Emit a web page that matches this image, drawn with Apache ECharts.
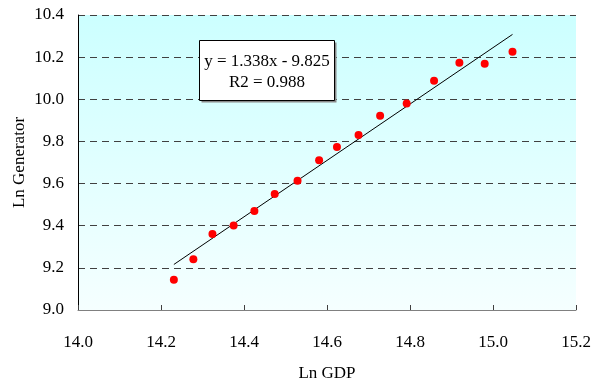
<!DOCTYPE html>
<html>
<head>
<meta charset="utf-8">
<script src="https://cdn.jsdelivr.net/npm/echarts@6/dist/echarts.min.js"></script>
<style>
  html, body { margin: 0; padding: 0; background: #fff; }
  #chart { width: 591px; height: 383px; }
</style>
</head>
<body>
<div id="chart"></div>
<script>
// Ln GDP vs Ln Generator, yearly observations
const lnGDP = [14.231, 14.278, 14.324, 14.375, 14.425, 14.474, 14.529, 14.581, 14.624,
               14.676, 14.728, 14.792, 14.858, 14.919, 14.980, 15.047];
const lnGenerator = [9.144, 9.241, 9.361, 9.401, 9.470, 9.551, 9.613, 9.711, 9.774,
                     9.830, 9.922, 9.980, 10.088, 10.173, 10.169, 10.226];

// Fitted regression reported in the annotation
const slope = 1.338;
const intercept = -9.825;
const rSquared = 0.988;

const xTicks = { min: 14.0, max: 15.2, step: 0.2 };
const yTicks = { min: 9.0, max: 10.4, step: 0.2 };

const points = lnGDP.map((x, i) => [x, lnGenerator[i]]);
const xLo = Math.min(...lnGDP), xHi = Math.max(...lnGDP);
const fitLine = [[xLo, slope * xLo + intercept], [xHi, slope * xHi + intercept]];

const FONT = '"Liberation Serif", "Times New Roman", serif';

const chart = echarts.init(document.getElementById('chart'), null, { renderer: 'canvas' });
chart.setOption({
  animation: false,
  backgroundColor: '#ffffff',
  grid: {
    left: 78, right: 15, top: 15, bottom: 73,
    containLabel: false,
    outerBoundsMode: 'none',
    show: true,
    borderWidth: 0,
    backgroundColor: new echarts.graphic.LinearGradient(0, 0, 0, 1, [
      { offset: 0, color: '#ccffff' },
      { offset: 1, color: '#f5ffff' }
    ])
  },
  xAxis: {
    type: 'value',
    min: xTicks.min, max: xTicks.max, interval: xTicks.step,
    name: 'Ln GDP',
    nameLocation: 'middle',
    nameGap: 55,
    nameMoveOverlap: false,
    nameTextStyle: { fontFamily: FONT, fontSize: 17, color: '#000' },
    axisLine: { show: true, lineStyle: { color: '#808080', width: 1 } },
    axisTick: { show: true, inside: true, length: 5, lineStyle: { color: '#404040' } },
    axisLabel: {
      margin: 24, fontFamily: FONT, fontSize: 17, color: '#000',
      formatter: v => v.toFixed(1)
    },
    splitLine: { show: false }
  },
  yAxis: {
    type: 'value',
    min: yTicks.min, max: yTicks.max, interval: yTicks.step,
    name: 'Ln Generator',
    nameLocation: 'middle',
    nameGap: 50,
    nameRotate: 90,
    nameMoveOverlap: false,
    nameTextStyle: { fontFamily: FONT, fontSize: 17, color: '#000' },
    axisLine: { show: true, lineStyle: { color: '#000', width: 1 } },
    axisTick: { show: false },
    axisLabel: {
      margin: 14, fontFamily: FONT, fontSize: 17, color: '#000',
      formatter: v => v.toFixed(1)
    },
    splitLine: { show: true, lineStyle: { color: '#404040', width: 1, type: [7, 5] } }
  },
  series: [
    {
      type: 'line',
      data: fitLine,
      showSymbol: false,
      symbol: 'none',
      lineStyle: { color: '#000', width: 1 },
      z: 2
    },
    {
      type: 'scatter',
      data: points,
      symbol: 'circle',
      symbolSize: 8,
      itemStyle: { color: '#ff0000', opacity: 1 },
      z: 3
    }
  ],
  graphic: [
    {
      type: 'group',
      left: 199, top: 40,
      z: 100,
      children: [
        { type: 'rect', z: 100, shape: { x: 2, y: 2, width: 135, height: 60 }, style: { fill: '#8a8a8a' } },
        { type: 'rect', z: 101, shape: { x: 0, y: 0, width: 135, height: 60 }, style: { fill: '#fff', stroke: '#000', lineWidth: 1 } },
        {
          type: 'text', z: 102, x: 67.5, y: 21,
          style: {
            text: 'y = ' + slope.toFixed(3) + 'x - ' + Math.abs(intercept).toFixed(3),
            font: '17px ' + FONT, fill: '#000', align: 'center', verticalAlign: 'middle'
          }
        },
        {
          type: 'text', z: 102, x: 67.5, y: 42,
          style: {
            text: 'R2 = ' + rSquared.toFixed(3),
            font: '17px ' + FONT, fill: '#000', align: 'center', verticalAlign: 'middle'
          }
        }
      ]
    }
  ]
});
</script>
</body>
</html>
